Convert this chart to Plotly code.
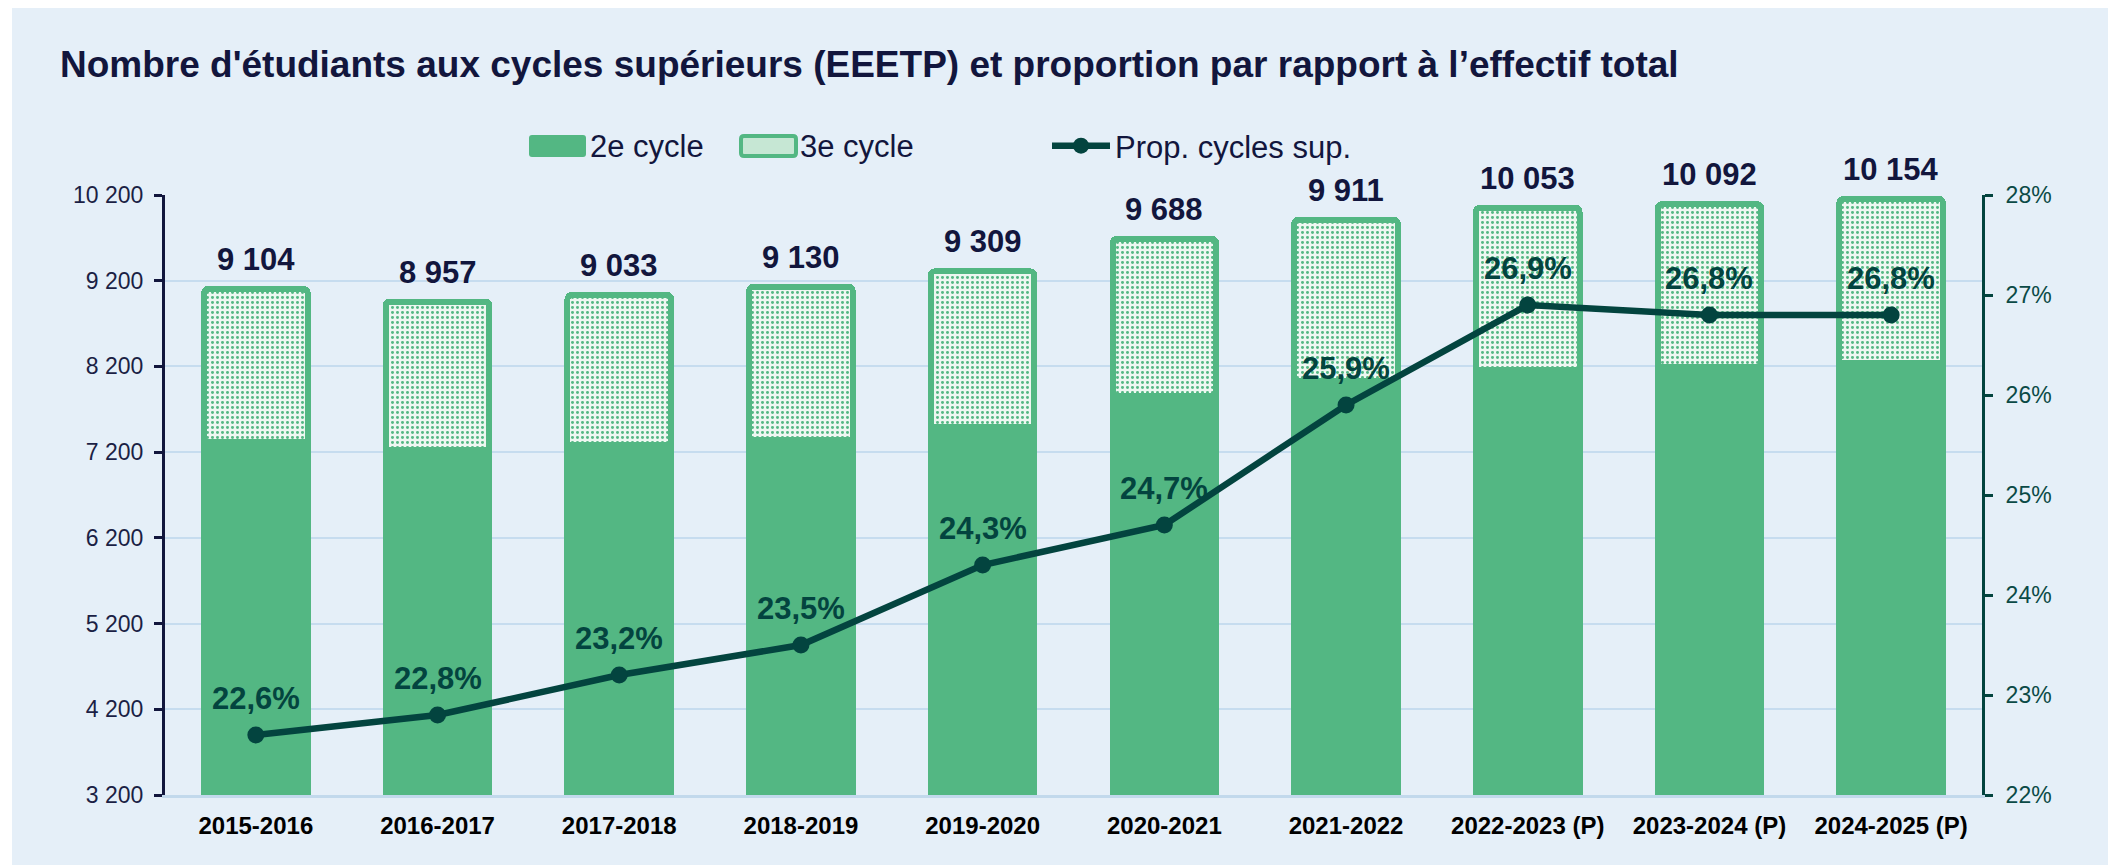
import plotly.graph_objects as go

# ---- data ----
years = ["2015-2016", "2016-2017", "2017-2018", "2018-2019", "2019-2020",
         "2020-2021", "2021-2022", "2022-2023 (P)", "2023-2024 (P)", "2024-2025 (P)"]
totals = [9104, 8957, 9033, 9130, 9309, 9688, 9911, 10053, 10092, 10154]
cycle2 = [7315, 7225, 7283, 7345, 7493, 7858, 8033, 8162, 8193, 8240]
cycle3 = [t - c for t, c in zip(totals, cycle2)]
prop = [22.6, 22.8, 23.2, 23.5, 24.3, 24.7, 25.9, 26.9, 26.8, 26.8]
legend_bars = ["2e cycle", "3e cycle"]

# ---- styles ----
FONT = "Liberation Sans, Arial, sans-serif"
GREEN = "#53B783"
TEAL = "#03443F"
NAVY = "#12163D"
BG = "#E5EFF8"
GRID = "#C6DCEF"

W, H = 2116, 865
OFF = 8  # page body margin
ML, MR, MT, MB = 157, 142, 187, 78
PW, PH = W - ML - MR, H - MT - MB


def px_x(sx):
    """screen x pixel -> paper x"""
    return (sx - OFF - ML) / PW


def px_y(sy):
    """screen y pixel -> paper y"""
    return 1 - (sy - OFF - MT) / PH


def rounded_rect(sx0, sy0, sx1, sy1, r=3):
    x0, x1 = px_x(sx0), px_x(sx1)
    y0, y1 = px_y(sy1), px_y(sy0)  # y0 bottom, y1 top (paper)
    rx, ry = r / PW, r / PH
    return (f"M{x0 + rx},{y0} L{x1 - rx},{y0} Q{x1},{y0} {x1},{y0 + ry} "
            f"L{x1},{y1 - ry} Q{x1},{y1} {x1 - rx},{y1} "
            f"L{x0 + rx},{y1} Q{x0},{y1} {x0},{y1 - ry} "
            f"L{x0},{y0 + ry} Q{x0},{y0} {x0 + rx},{y0} Z")


fig = go.Figure()

fig.add_trace(go.Bar(
    x=years, y=cycle2, name=legend_bars[0], showlegend=False,
    marker=dict(color=GREEN, line=dict(color=GREEN, width=6)),
    hoverinfo="skip",
))
fig.add_trace(go.Bar(
    x=years, y=cycle3, name=legend_bars[1], showlegend=False,
    marker=dict(color="#EEF7F1", line=dict(color=GREEN, width=6),
                pattern=dict(shape=".", fgcolor=GREEN, bgcolor="#EEF7F1",
                             size=5, solidity=0.28, fillmode="replace")),
    hoverinfo="skip",
))
fig.add_trace(go.Scatter(
    x=years, y=prop, name="Prop. cycles sup.", legend="legend2", yaxis="y2",
    mode="lines+markers",
    line=dict(color=TEAL, width=6.5),
    marker=dict(color=TEAL, size=17),
    hoverinfo="skip",
))

annotations = []
for x, t in zip(years, totals):
    annotations.append(dict(
        x=x, y=t, xref="x", yref="y", yanchor="bottom", yshift=10,
        text=f"{t:,}".replace(",", " "), showarrow=False,
        font=dict(family=FONT, size=31, color=NAVY, weight="bold"),
    ))
for x, p in zip(years, prop):
    annotations.append(dict(
        x=x, y=p, xref="x", yref="y2", yanchor="bottom", yshift=17,
        text=f"{p:.1f}".replace(".", ",") + "%", showarrow=False,
        font=dict(family=FONT, size=31, color=TEAL, weight="bold"),
    ))

# custom legend entries for the bar series (large swatches as in the original)
legend_text_x = [588, 798]
for name, tx in zip(legend_bars, legend_text_x):
    annotations.append(dict(
        x=px_x(tx), y=px_y(146), xref="paper", yref="paper",
        xanchor="left", yanchor="middle", text=name, showarrow=False,
        font=dict(family=FONT, size=31, color=NAVY),
    ))

shapes = [
    # white left strip around the light-blue card
    dict(type="rect", xref="paper", yref="paper", x0=px_x(0), x1=px_x(12),
         y0=px_y(H + OFF), y1=px_y(0), fillcolor="white", line=dict(width=0), layer="above"),
    # legend swatch: 2e cycle
    dict(type="path", xref="paper", yref="paper", path=rounded_rect(529, 135, 586, 157),
         fillcolor=GREEN, line=dict(width=0), layer="above"),
    # legend swatch: 3e cycle (dotted)
    dict(type="path", xref="paper", yref="paper", path=rounded_rect(741, 136, 796, 156),
         fillcolor="#C6E7D4", line=dict(color=GREEN, width=4), layer="above"),
]

fig.update_layout(
    width=W, height=H,
    margin=dict(l=ML, r=MR, t=MT, b=MB, autoexpand=False),
    paper_bgcolor=BG, plot_bgcolor=BG,
    separators=", ",
    font=dict(family=FONT, color=NAVY),
    barmode="stack", bargap=0.43, barcornerradius=4,
    title=dict(
        text="Nombre d'étudiants aux cycles supérieurs (EEETP) et proportion par rapport à l’effectif total",
        x=(60 - OFF) / W, xanchor="left", xref="container",
        y=1 - (64 - OFF) / H, yanchor="middle", yref="container",
        font=dict(family=FONT, size=37, color=NAVY, weight="bold"),
    ),
    xaxis=dict(
        type="category", range=[-0.5, len(years) - 0.5], autorange=False,
        showgrid=False, showline=True, linecolor="#C2D9EC", linewidth=3,
        ticks="", tickfont=dict(family=FONT, size=24, color="#000000", weight="bold"),
        ticklabelstandoff=7,
    ),
    yaxis=dict(
        range=[3200, 10200], tickmode="linear", tick0=3200, dtick=1000,
        tickformat=",.0f", showgrid=True, gridcolor=GRID, gridwidth=2,
        showline=True, linecolor=NAVY, linewidth=3,
        ticks="outside", ticklen=8, tickwidth=3, tickcolor=NAVY,
        tickfont=dict(family=FONT, size=23, color="#1B1F45"),
        ticklabelstandoff=6, zeroline=False,
    ),
    yaxis2=dict(
        range=[22, 28], tickmode="linear", tick0=22, dtick=1, ticksuffix="%",
        overlaying="y", side="right", showgrid=False,
        showline=True, linecolor=TEAL, linewidth=3,
        ticks="outside", ticklen=8, tickwidth=3, tickcolor=TEAL,
        tickfont=dict(family=FONT, size=23, color="#0B4A46"),
        ticklabelstandoff=8, zeroline=False,
    ),
    legend2=dict(
        orientation="h", x=px_x(1047), xanchor="left", y=px_y(146), yanchor="middle",
        font=dict(family=FONT, size=31, color=NAVY), bgcolor="rgba(0,0,0,0)",
        itemwidth=58,
    ),
    annotations=annotations,
    shapes=shapes,
)

fig.write_html("out.html")
